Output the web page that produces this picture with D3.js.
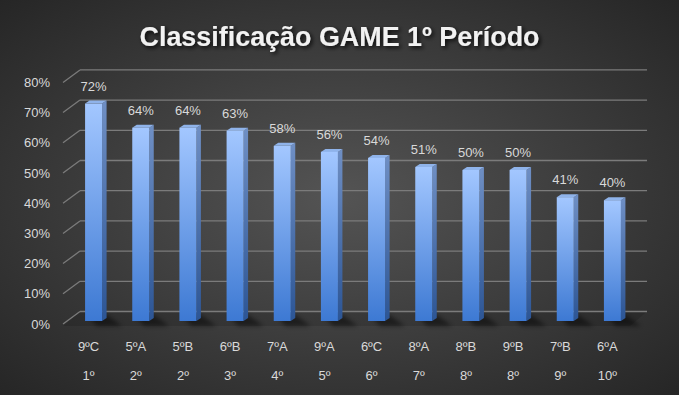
<!DOCTYPE html>
<html>
<head>
<meta charset="utf-8">
<script src="https://cdn.jsdelivr.net/npm/d3@7"></script>
<style>
  body { margin: 0; background: #333; }
  text { font-family: "Liberation Sans", Arial, sans-serif; }
</style>
</head>
<body>
<div id="chart"></div>
<script>
// data
const categories = ["9ºC", "5ºA", "5ºB", "6ºB", "7ºA", "9ºA", "6ºC", "8ºA", "8ºB", "9ºB", "7ºB", "6ºA"];
const ranks = ["1º", "2º", "2º", "3º", "4º", "5º", "6º", "7º", "8º", "8º", "9º", "10º"];
const values = [0.72, 0.64, 0.64, 0.63, 0.58, 0.56, 0.54, 0.51, 0.50, 0.50, 0.41, 0.40];
const yTicks = [0, 0.1, 0.2, 0.3, 0.4, 0.5, 0.6, 0.7, 0.8];
const title = "Classificação GAME 1º Período";

const svgWidth = 679;
const svgHeight = 395;

// 3d depth offsets
const depthX = 17, depthY = -12.5;
const frontGap = 3; // bars sit a bit behind the front edge

const data = categories.map((c, i) => ({ cat: c, rank: ranks[i], value: values[i] }));

const svg = d3.select("#chart").append("svg")
    .attr("width", svgWidth)
    .attr("height", svgHeight);

const defs = svg.append("defs");

const bg = defs.append("radialGradient").attr("id", "bg")
    .attr("cx", "50%").attr("cy", "50%").attr("r", "75%");
bg.append("stop").attr("offset", "0%").attr("stop-color", "#545454");
bg.append("stop").attr("offset", "100%").attr("stop-color", "#232323");

const front = defs.append("linearGradient").attr("id", "front")
    .attr("x1", 0).attr("y1", 0).attr("x2", 0).attr("y2", 1);
front.append("stop").attr("offset", "0%").attr("stop-color", "#a3c7ff");
front.append("stop").attr("offset", "100%").attr("stop-color", "#3d79d3");

const side = defs.append("linearGradient").attr("id", "side")
    .attr("x1", 0).attr("y1", 0).attr("x2", 0).attr("y2", 1);
side.append("stop").attr("offset", "0%").attr("stop-color", "#6f8fc4");
side.append("stop").attr("offset", "100%").attr("stop-color", "#2c5595");

const shadow = defs.append("filter").attr("id", "tshadow")
    .attr("x", "-10%").attr("y", "-30%").attr("width", "120%").attr("height", "160%");
shadow.append("feDropShadow").attr("dx", 2).attr("dy", 2).attr("stdDeviation", 2)
    .attr("flood-color", "#000").attr("flood-opacity", 0.8);

const blur = defs.append("filter").attr("id", "blur")
    .attr("x", "-50%").attr("y", "-50%").attr("width", "200%").attr("height", "200%");
blur.append("feGaussianBlur").attr("stdDeviation", 2);

svg.append("rect")
    .attr("width", svgWidth).attr("height", svgHeight)
    .attr("fill", "url(#bg)");

const x = d3.scaleBand()
    .domain(categories)
    .range([70, 636]);

const y = d3.scaleLinear()
    .domain([0, 0.8])
    .range([321, 79.4]);

const bw = 17, sideW = 4.5, topH = 3;
const backLeft = 80, backRight = 647;

// floor
const yf = y(0) + frontGap;
svg.append("polygon")
    .attr("points", [[63, yf + 2], [backLeft, yf + depthY], [backRight, yf + depthY], [backRight - depthX, yf + 2]].join(" "))
    .attr("fill", "#000").attr("opacity", 0.12);

// gridlines (back wall + left slant)
const grid = svg.append("g");
yTicks.forEach(t => {
    const yb = y(t) + frontGap + depthY;
    grid.append("line")
        .attr("x1", backLeft).attr("x2", backRight)
        .attr("y1", yb).attr("y2", yb)
        .attr("stroke", "#7b7b7b").attr("stroke-width", 1.3);
    grid.append("line")
        .attr("x1", backLeft - depthX).attr("y1", y(t) + frontGap)
        .attr("x2", backLeft).attr("y2", yb)
        .attr("stroke", "#7b7b7b").attr("stroke-width", 1.3);
});

// y tick labels
svg.append("g").selectAll("text").data(yTicks)
    .enter().append("text")
    .attr("x", 50)
    .attr("y", d => y(d) + frontGap)
    .attr("text-anchor", "end")
    .attr("dominant-baseline", "central")
    .attr("font-size", "13px")
    .attr("fill", "#d9d9d9")
    .text(d3.format(".0%"));

// bar shadows on the floor, slanting to the lower right
svg.append("g").selectAll("polygon").data(data)
    .enter().append("polygon")
    .attr("points", d => {
        const x0 = x(d.cat) + x.bandwidth() / 2 - bw / 2;
        const yb = y(0);
        return [[x0 + 2, yb - 6], [x0 + bw + sideW, yb - 6], [x0 + bw + 20, yb + 5], [x0 + 12, yb + 5]].join(" ");
    })
    .attr("fill", "#000").attr("opacity", 0.45)
    .attr("filter", "url(#blur)");

const bars = svg.append("g").selectAll("g").data(data)
    .enter().append("g")
    .attr("transform", d => `translate(${x(d.cat) + x.bandwidth() / 2 - bw / 2},0)`);

bars.append("polygon")
    .attr("points", d => [[bw, y(d.value)], [bw + sideW, y(d.value) - topH], [bw + sideW, y(0) - topH], [bw, y(0)]].join(" "))
    .attr("fill", "url(#side)");

bars.append("polygon")
    .attr("points", d => [[0, y(d.value)], [sideW, y(d.value) - topH], [bw + sideW, y(d.value) - topH], [bw, y(d.value)]].join(" "))
    .attr("fill", "#8fb3ea");

bars.append("rect")
    .attr("x", 0)
    .attr("y", d => y(d.value))
    .attr("width", bw)
    .attr("height", d => y(0) - y(d.value))
    .attr("fill", "url(#front)");

// value labels
bars.append("text")
    .attr("x", bw / 2)
    .attr("y", d => y(d.value) - 13)
    .attr("text-anchor", "middle")
    .attr("font-size", "13px")
    .attr("fill", "#d9d9d9")
    .text(d => d3.format(".0%")(d.value));

// category and rank labels
const xLab = svg.append("g");
xLab.selectAll(".cat").data(data)
    .enter().append("text")
    .attr("class", "cat")
    .attr("x", d => x(d.cat) + x.bandwidth() / 2 - 5)
    .attr("y", 351)
    .attr("text-anchor", "middle")
    .attr("font-size", "13px")
    .attr("fill", "#d9d9d9")
    .text(d => d.cat);

xLab.selectAll(".rank").data(data)
    .enter().append("text")
    .attr("class", "rank")
    .attr("x", d => x(d.cat) + x.bandwidth() / 2 - 5)
    .attr("y", 380)
    .attr("text-anchor", "middle")
    .attr("font-size", "13px")
    .attr("fill", "#d9d9d9")
    .text(d => d.rank);

svg.append("text")
    .attr("x", svgWidth / 2)
    .attr("y", 46)
    .attr("text-anchor", "middle")
    .attr("font-size", "27px")
    .attr("font-weight", "bold")
    .attr("fill", "#f2f2f2")
    .attr("textLength", 400)
    .attr("lengthAdjust", "spacingAndGlyphs")
    .attr("filter", "url(#tshadow)")
    .text(title);
</script>
</body>
</html>
